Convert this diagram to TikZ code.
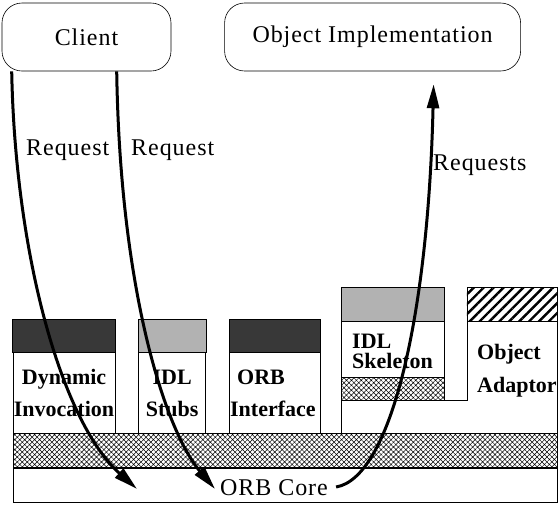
\documentclass[tikz,border=0pt]{standalone}
\usepackage{fontspec}
\setmainfont{Liberation Serif}
\newfontfamily\widefont{Liberation Serif}[LetterSpace=4]
\usetikzlibrary{arrows.meta,positioning,patterns.meta}
\definecolor{darkdot}{gray}{0.22}
\definecolor{lightdot}{gray}{0.70}
\tikzset{
  endpt/.style={rectangle,rounded corners=20pt,draw=black,line width=0.6pt,
    font=\widefont\fontsize{24}{28}\selectfont},
  part/.style={rectangle,draw=black,line width=0.6pt,inner sep=0pt},
  partlbl/.style={font=\fontsize{22}{32}\selectfont\bfseries,align=center,inner sep=0pt},
  darktop/.style={fill=darkdot,draw=black,line width=0.6pt},
  lighttop/.style={fill=lightdot,draw=black,line width=0.6pt},
  xhatch/.style={pattern={Hatch[angle=45,distance=3.5pt,line width=0.5pt]}},
  slant/.style={pattern={Lines[angle=45,distance=7pt,line width=2.4pt]}},
  req/.style={-{Triangle[length=24pt,width=12pt]},line width=3pt},
  reqlbl/.style={font=\widefont\fontsize{24}{28}\selectfont,inner sep=0pt},
}
\begin{document}
\begin{tikzpicture}[x=1pt,y=-1pt]
  \useasboundingbox (0,0) rectangle (560,504);
  % client and server
  \node[endpt,minimum width=169pt,minimum height=68pt] (client) at (86.5,37) {Client};
  \node[endpt,minimum width=296pt,minimum height=68pt,right=53pt of client] (objimpl)
    {Object Implementation};
  % orb core with hatched band
  \node[part,minimum width=544pt,minimum height=34pt] (core) at (285,485) {};
  \node[reqlbl] (corelbl) at (274,488) {ORB Core};
  \node[part,xhatch,minimum width=544pt,minimum height=34pt,above=0pt of core] (band) {};
  % client side
  \node[part,minimum width=102pt,minimum height=113pt,anchor=south west] (dii) at (band.north west) {};
  \node[part,minimum width=67pt,minimum height=113pt,right=23pt of dii] (stubs) {};
  \node[part,minimum width=91pt,minimum height=113pt,right=23pt of stubs] (orbif) {};
  \filldraw[darktop] (dii.north west) rectangle ([yshift=-33pt]dii.north east);
  \filldraw[lighttop] (stubs.north west) rectangle ([yshift=-33pt]stubs.north east);
  \filldraw[darktop] (orbif.north west) rectangle ([yshift=-33pt]orbif.north east);
  \node[partlbl] (dii-lbl) at ([yshift=40pt]dii.south) {Dynamic\\Invocation};
  \node[partlbl] (stubs-lbl) at ([yshift=40pt]stubs.south) {IDL\\Stubs};
  \node[partlbl,align=left,anchor=west] (orbif-lbl) at ([yshift=40pt,xshift=1pt]orbif.south west)
    {\hspace{7pt}ORB\\Interface};
  % server side
  \node[part,minimum width=103pt,minimum height=113pt,anchor=north west] (skel) at (341,287) {};
  \filldraw[lighttop] (skel.north west) rectangle ([yshift=-34pt]skel.north east);
  \filldraw[xhatch,draw=black,line width=0.6pt] (skel.south west) rectangle ([yshift=23pt]skel.south east);
  \node[partlbl,font=\fontsize{22}{20}\selectfont\bfseries,align=left,anchor=west] (skel-lbl)
    at (352,351) {IDL\\Skeleton};
  \node[minimum width=90pt,minimum height=147pt,anchor=north east] (adaptor)
    at (band.north east |- skel.north) {};
  \filldraw[slant,draw=black,line width=0.6pt] (adaptor.north west) rectangle ([yshift=-34pt]adaptor.north east);
  \draw[line width=0.6pt] (skel.south west |- band.north) -- (skel.south west) -| (adaptor.north west)
    -- (adaptor.north east) -- (adaptor.south east);
  \node[partlbl,font=\fontsize{22}{33}\selectfont\bfseries,align=left,anchor=west] (adaptor-lbl)
    at (477,371) {Object\\Adaptor};
  % requests
  \coordinate (dii-in) at (137,489);
  \coordinate (stubs-in) at (215,489);
  \draw[req] ([xshift=10pt]client.south west) .. controls (15,250) and (60,420) .. (dii-in);
  \draw[req] ([xshift=115pt]client.south west) .. controls (120,290) and (165,430) .. (stubs-in);
  \draw[req] ([xshift=8pt,yshift=1pt]corelbl.east) .. controls (390,478) and (428,320)
    .. ([xshift=61pt,yshift=-13pt]objimpl.south);
  \node[reqlbl,anchor=west] (req1) at (26,150) {Request};
  \node[reqlbl,anchor=west] (req2) at (131,150) {Request};
  \node[reqlbl,anchor=west] (req3) at (433,165) {Requests};
\end{tikzpicture}
\end{document}
